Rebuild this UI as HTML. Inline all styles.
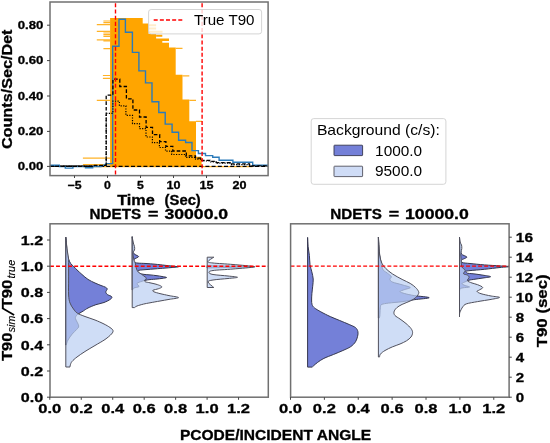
<!DOCTYPE html>
<html><head><meta charset="utf-8"><title>T90 plot</title>
<style>
html,body{margin:0;padding:0;background:#fff;width:550px;height:443px;overflow:hidden}
svg{display:block;filter:blur(0.35px)}
text{font-family:"Liberation Sans",sans-serif;fill:#000}
.b{font-weight:bold;stroke:#000;stroke-width:0.3px}
</style></head><body>
<svg width="550" height="443" viewBox="0 0 550 443">
<rect width="550" height="443" fill="#fff"/>
<defs>
<clipPath id="c1"><rect x="50" y="2" width="218.1" height="173.6"/></clipPath>
<clipPath id="c2"><rect x="50" y="223.8" width="218.3" height="173.4"/></clipPath>
<clipPath id="c3"><rect x="290.6" y="223.8" width="218.5" height="173.4"/></clipPath>
</defs>
<g clip-path="url(#c1)">
<polygon points="110.1,166.9 110.1,18.1 142.7,18.1 142.7,23.4 148.6,23.4 148.6,34 156.1,34 156.1,38.6 169,38.6 169,47.6 175.7,47.6 175.7,74.7 182.5,74.7 182.5,99.6 189.3,99.6 189.3,121.3 196,121.3 196,156.8 201.6,156.8 201.6,166.9" fill="#ffa500"/>
<line x1="162.3" y1="41.85" x2="169.1" y2="41.85" stroke="#fff" stroke-width="1.6"/>
<line x1="148.6" y1="25.2" x2="156.1" y2="25.2" stroke="#ffa500" stroke-width="2"/>
<line x1="148.6" y1="28.4" x2="156.1" y2="28.4" stroke="#ffa500" stroke-width="2"/>
<line x1="148.6" y1="31.7" x2="162.5" y2="31.7" stroke="#ffa500" stroke-width="2"/>
<line x1="156.1" y1="35.8" x2="162.3" y2="35.8" stroke="#ffa500" stroke-width="2"/>
<line x1="103.4" y1="21" x2="110.1" y2="21" stroke="#ffa500" stroke-width="1.2" stroke-opacity="0.85"/>
<line x1="103.4" y1="22.7" x2="110.1" y2="22.7" stroke="#ffa500" stroke-width="1.2" stroke-opacity="0.85"/>
<line x1="96.8" y1="24.6" x2="110.1" y2="24.6" stroke="#ffa500" stroke-width="1.2" stroke-opacity="0.85"/>
<line x1="96.8" y1="31.4" x2="110.1" y2="31.4" stroke="#ffa500" stroke-width="1.2" stroke-opacity="0.85"/>
<line x1="103.4" y1="33" x2="110.1" y2="33" stroke="#ffa500" stroke-width="1.2" stroke-opacity="0.85"/>
<line x1="103.4" y1="34.6" x2="110.1" y2="34.6" stroke="#ffa500" stroke-width="1.2" stroke-opacity="0.85"/>
<line x1="103.4" y1="36.4" x2="110.1" y2="36.4" stroke="#ffa500" stroke-width="1.2" stroke-opacity="0.85"/>
<line x1="96.8" y1="39.8" x2="110.1" y2="39.8" stroke="#ffa500" stroke-width="1.2" stroke-opacity="0.85"/>
<line x1="103.4" y1="40.9" x2="110.1" y2="40.9" stroke="#ffa500" stroke-width="1.2" stroke-opacity="0.85"/>
<line x1="103.4" y1="48.6" x2="110.1" y2="48.6" stroke="#ffa500" stroke-width="1.2" stroke-opacity="0.85"/>
<line x1="102.9" y1="75.5" x2="110.1" y2="75.5" stroke="#ffa500" stroke-width="1.2" stroke-opacity="0.85"/>
<line x1="102.9" y1="78.4" x2="110.1" y2="78.4" stroke="#ffa500" stroke-width="1.2" stroke-opacity="0.85"/>
<line x1="96.8" y1="100.4" x2="110.1" y2="100.4" stroke="#ffa500" stroke-width="1.2" stroke-opacity="0.85"/>
<line x1="82.9" y1="158.1" x2="110.1" y2="158.1" stroke="#ffa500" stroke-width="1.2" stroke-opacity="0.85"/>
<line x1="82.9" y1="164.6" x2="110.1" y2="164.6" stroke="#ffa500" stroke-width="1.2" stroke-opacity="0.85"/>
<line x1="82.9" y1="166.6" x2="252.5" y2="166.6" stroke="#ffa500" stroke-width="1.2" stroke-opacity="0.85"/>
<line x1="175.7" y1="48.3" x2="182.5" y2="48.3" stroke="#ffa500" stroke-width="1.2" stroke-opacity="0.85"/>
<line x1="182.5" y1="75.8" x2="189.3" y2="75.8" stroke="#ffa500" stroke-width="1.2" stroke-opacity="0.85"/>
<line x1="189.3" y1="100.3" x2="196" y2="100.3" stroke="#ffa500" stroke-width="1.2" stroke-opacity="0.85"/>
<line x1="196" y1="121.3" x2="202.1" y2="121.3" stroke="#ffa500" stroke-width="1.2" stroke-opacity="0.85"/>
<line x1="50.0" y1="166.4" x2="268.1" y2="166.4" stroke="#000" stroke-width="1.4" stroke-dasharray="4,2.2" stroke-dashoffset="5.8"/>
<line x1="50" y1="166.2" x2="91" y2="166.2" stroke="#000" stroke-width="1.3"/>
<polyline points="50,165.3 59.3,165.3 59.3,166.6 65.3,166.6 65.3,168.1 72.9,168.1 72.9,166.6 85.5,166.6 85.5,167.8 92.7,167.8 92.7,166.6 101.2,166.6 106.4,163.6 112.7,163.6 112.7,46.3 119,46.3 119,19.2 125.4,19.2 125.4,32.3 132.4,32.3 132.4,52.4 138.9,52.4 138.9,70.9 145.5,70.9 145.5,82.9 152,82.9 152,101.7 158.8,101.7 158.8,112.5 165.2,112.5 165.2,124.1 172.1,124.1 172.1,132.2 178.6,132.2 178.6,140.2 185.6,140.2 185.6,142.5 192,142.5 192,150.6 198.4,150.6 198.4,153.5 205.5,153.5 205.5,155.6 212.7,155.6 212.7,157.2 219.1,157.2 219.1,160.3 232.9,160.3 232.9,162.2 252.7,162.2 252.7,165.3 268.2,165.3" fill="none" stroke="#2b7bba" stroke-width="1.4"/>
<polyline points="50,166.3 92,166.3 92,165.3 106.2,165.3 106.2,95.1 112.9,95.1 112.9,79.2 119.8,79.2 119.8,86.5 126.4,86.5 126.4,98.8 132.9,98.8 132.9,110 139.5,110 139.5,117 146.1,117 146.1,127.3 152.5,127.3 152.5,134.7 159.7,134.7 159.7,141.6 165.9,141.6 165.9,146.4 172.8,146.4 172.8,151 186.3,151 186.3,155.8 195.5,155.8 195.5,158.2 201.8,158.2 201.8,160.3 210,160.3 210,161.3 216.4,161.3 216.4,162.6 230,162.6 230,163.9 249.5,163.9 249.5,165.8 268.2,165.8" fill="none" stroke="#000" stroke-width="1.3" stroke-dasharray="3.6,2"/>
<polyline points="50,166.3 92,166.3 92,165.6 106.2,165.6 106.2,113.3 112.9,113.3 112.9,101.2 119.4,101.2 119.4,105.9 125.9,105.9 125.9,115.4 132.5,115.4 132.5,123.7 139.5,123.7 139.5,128.6 146,128.6 146,137 152.4,137 152.4,142.7 159.4,142.7 159.4,147.5 165.5,147.5 165.5,151.1 171.7,151.1 171.7,154.5 185.5,154.5 185.5,157.3 195.5,157.3 195.5,159.2 202,159.2 202,161 210,161 210,162 216.4,162 216.4,163.2 230,163.2 230,164.6 249.5,164.6 249.5,166 268.2,166" fill="none" stroke="#000" stroke-width="1.2" stroke-dasharray="1.2,1.4"/>
<line x1="115.5" y1="2.0" x2="115.5" y2="175.6" stroke="#ff0000" stroke-width="1.4" stroke-dasharray="4.05,2.14" stroke-dashoffset="4.89"/>
<line x1="202.1" y1="2.0" x2="202.1" y2="175.6" stroke="#ff0000" stroke-width="1.4" stroke-dasharray="4.05,2.14" stroke-dashoffset="4.89"/>
</g>
<rect x="148.6" y="9.5" width="113" height="24.4" rx="2.5" fill="#fff" fill-opacity="0.8" stroke="#d0d0d0" stroke-width="0.9"/>
<line x1="153.7" y1="20" x2="182.6" y2="20" stroke="#ff0000" stroke-width="1.4" stroke-dasharray="4,2.15"/>
<text x="194.0" y="24.7" font-size="14.3" textLength="60.5" lengthAdjust="spacingAndGlyphs">True T90</text>
<rect x="50.0" y="2.0" width="218.1" height="173.6" fill="none" stroke="#707070" stroke-width="1.5"/>
<line x1="47" y1="166.4" x2="50.0" y2="166.4" stroke="#444" stroke-width="1"/>
<text class="b" x="43.3" y="170.1" font-size="10.8" text-anchor="end" textLength="25.6" lengthAdjust="spacingAndGlyphs">0.00</text>
<line x1="47" y1="131.4" x2="50.0" y2="131.4" stroke="#444" stroke-width="1"/>
<text class="b" x="43.3" y="135.1" font-size="10.8" text-anchor="end" textLength="25.6" lengthAdjust="spacingAndGlyphs">0.20</text>
<line x1="47" y1="96.0" x2="50.0" y2="96.0" stroke="#444" stroke-width="1"/>
<text class="b" x="43.3" y="99.7" font-size="10.8" text-anchor="end" textLength="25.6" lengthAdjust="spacingAndGlyphs">0.40</text>
<line x1="47" y1="60.6" x2="50.0" y2="60.6" stroke="#444" stroke-width="1"/>
<text class="b" x="43.3" y="64.3" font-size="10.8" text-anchor="end" textLength="25.6" lengthAdjust="spacingAndGlyphs">0.60</text>
<line x1="47" y1="25.2" x2="50.0" y2="25.2" stroke="#444" stroke-width="1"/>
<text class="b" x="43.3" y="28.9" font-size="10.8" text-anchor="end" textLength="25.6" lengthAdjust="spacingAndGlyphs">0.80</text>
<line x1="74.5" y1="175.6" x2="74.5" y2="178" stroke="#444" stroke-width="1"/>
<text class="b" x="74.5" y="189.4" font-size="10.8" text-anchor="middle" textLength="14" lengthAdjust="spacingAndGlyphs">−5</text>
<line x1="107.5" y1="175.6" x2="107.5" y2="178" stroke="#444" stroke-width="1"/>
<text class="b" x="107.5" y="189.4" font-size="10.8" text-anchor="middle" textLength="6.8" lengthAdjust="spacingAndGlyphs">0</text>
<line x1="140.5" y1="175.6" x2="140.5" y2="178" stroke="#444" stroke-width="1"/>
<text class="b" x="140.5" y="189.4" font-size="10.8" text-anchor="middle" textLength="6.8" lengthAdjust="spacingAndGlyphs">5</text>
<line x1="173.5" y1="175.6" x2="173.5" y2="178" stroke="#444" stroke-width="1"/>
<text class="b" x="173.5" y="189.4" font-size="10.8" text-anchor="middle" textLength="14" lengthAdjust="spacingAndGlyphs">10</text>
<line x1="206.5" y1="175.6" x2="206.5" y2="178" stroke="#444" stroke-width="1"/>
<text class="b" x="206.5" y="189.4" font-size="10.8" text-anchor="middle" textLength="14" lengthAdjust="spacingAndGlyphs">15</text>
<line x1="239.5" y1="175.6" x2="239.5" y2="178" stroke="#444" stroke-width="1"/>
<text class="b" x="239.5" y="189.4" font-size="10.8" text-anchor="middle" textLength="14" lengthAdjust="spacingAndGlyphs">20</text>
<text class="b" x="117.2" y="205.3" font-size="14" textLength="37.6" lengthAdjust="spacingAndGlyphs">Time</text>
<text class="b" x="164.6" y="205.3" font-size="14" textLength="36.2" lengthAdjust="spacingAndGlyphs">(Sec)</text>
<text class="b" transform="translate(11.6,89.3) rotate(-90)" x="0" y="0" font-size="14" text-anchor="middle" textLength="119.6" lengthAdjust="spacingAndGlyphs">Counts/Sec/Det</text>
<rect x="311.2" y="118.6" width="134.7" height="65.7" rx="2.5" fill="#fff" stroke="#d0d0d0" stroke-width="0.9"/>
<text x="316.9" y="134.5" font-size="14.3" textLength="123" lengthAdjust="spacingAndGlyphs">Background (c/s):</text>
<rect x="334" y="145.2" width="28.6" height="10.4" rx="0.6" fill="#7480d8" stroke="#34364e" stroke-width="0.9"/>
<rect x="334" y="166.2" width="28.6" height="10.4" rx="0.6" fill="#cfdcf6" stroke="#50505c" stroke-width="0.9"/>
<text x="375.1" y="155.6" font-size="14.3" textLength="47" lengthAdjust="spacingAndGlyphs">1000.0</text>
<text x="374.9" y="175.6" font-size="14.3" textLength="47.2" lengthAdjust="spacingAndGlyphs">9500.0</text>
<g clip-path="url(#c2)">
<path d="M65.8,237.2 L65.8,237.2  C65.93,238.5 66.35,242.2 66.6,245 C66.85,247.8 66.97,251.67 67.3,254 C67.63,256.33 68.05,257.43 68.6,259 C69.15,260.57 69.73,262.12 70.6,263.4 C71.47,264.68 72.73,265.62 73.8,266.7 C74.87,267.78 75.63,268.6 77,269.9 C78.37,271.2 80.17,272.92 82,274.5 C83.83,276.08 85.83,277.98 88,279.4 C90.17,280.82 92.83,281.98 95,283 C97.17,284.02 99.27,284.8 101,285.5 C102.73,286.2 104.37,286.62 105.4,287.2 C106.43,287.78 107.13,288.2 107.2,289 C107.27,289.8 105.75,291.07 105.8,292 C105.85,292.93 106.52,293.82 107.5,294.6 C108.48,295.38 111.2,295.93 111.7,296.7 C112.2,297.47 111.78,298.23 110.5,299.2 C109.22,300.17 106.43,301.58 104,302.5 C101.57,303.42 98.57,303.78 95.9,304.7 C93.23,305.62 90.1,306.95 88,308 C85.9,309.05 84.8,310.08 83.3,311 C81.8,311.92 80.13,312.75 79,313.5 C77.87,314.25 77.08,314.65 76.5,315.5 C75.92,316.35 75.13,316.87 75.5,318.6 C75.87,320.33 78.53,324.07 78.7,325.9 C78.87,327.73 77.58,328.25 76.5,329.6 C75.42,330.95 73.62,332.27 72.2,334 C70.78,335.73 69,338.17 68,340 C67,341.83 66.5,344.17 66.2,345 L65.8,345 Z" fill="#7480d8" stroke="#34364e" stroke-width="1.0" stroke-linejoin="round"/>
<path d="M132.2,236.7 L132.2,236.7  C132.3,237.5 132.67,239.95 132.8,241.5 C132.93,243.05 132.97,244.58 133,246 C133.03,247.42 132.97,248.92 133,250 C133.03,251.08 132.87,251.75 133.2,252.5 C133.53,253.25 134.1,253.82 135,254.5 C135.9,255.18 138.6,255.9 138.6,256.6 C138.6,257.3 135.85,258.1 135,258.7 C134.15,259.3 133.58,259.6 133.5,260.2 C133.42,260.8 133.75,261.82 134.5,262.3 C135.25,262.78 136.08,262.9 138,263.1 C139.92,263.3 143.17,263.32 146,263.5 C148.83,263.68 151.83,263.9 155,264.2 C158.17,264.5 162.17,264.98 165,265.3 C167.83,265.62 169.77,265.85 172,266.1 C174.23,266.35 178.4,266.57 178.4,266.8 C178.4,267.03 174.23,267.28 172,267.5 C169.77,267.72 167.83,267.87 165,268.1 C162.17,268.33 158.17,268.65 155,268.9 C151.83,269.15 148.67,269.37 146,269.6 C143.33,269.83 140.37,269.98 139,270.3 C137.63,270.62 137.72,271 137.8,271.5 C137.88,272 138.47,272.82 139.5,273.3 C140.53,273.78 142.25,274.13 144,274.4 C145.75,274.67 147.83,274.68 150,274.9 C152.17,275.12 155,275.43 157,275.7 C159,275.97 160.4,276.2 162,276.5 C163.6,276.8 166.6,277.18 166.6,277.5 C166.6,277.82 163.6,278.15 162,278.4 C160.4,278.65 159,278.8 157,279 C155,279.2 151.83,279.4 150,279.6 C148.17,279.8 147.33,279.93 146,280.2 C144.67,280.47 143.5,280.65 142,281.2 C140.5,281.75 137.5,282.62 137,283.5 C136.5,284.38 139.5,285.75 139,286.5 C138.5,287.25 135.08,287.42 134,288 C132.92,288.58 132.75,289.67 132.5,290 L132.2,290 Z" fill="#7480d8" stroke="#34364e" stroke-width="1.0" stroke-linejoin="round"/>
<path d="M207.2,265.6 L207.2,265.6  C210.17,265.68 219.53,265.97 225,266.1 C230.47,266.23 235.03,266.28 240,266.4 C244.97,266.52 254.8,266.67 254.8,266.8 C254.8,266.93 244.97,267.08 240,267.2 C235.03,267.32 230.47,267.37 225,267.5 C219.53,267.63 210.17,267.92 207.2,268 L207.2,268 Z" fill="#7480d8" stroke="#34364e" stroke-width="1.0" stroke-linejoin="round"/>
<path d="M65.8,237.2 L65.8,237.2  C65.92,238.5 66.22,242.53 66.5,245 C66.78,247.47 67.17,249.83 67.5,252 C67.83,254.17 68.32,255.83 68.5,258 C68.68,260.17 68.58,261.33 68.6,265 C68.62,268.67 68.6,275 68.6,280 C68.6,285 68.37,291.17 68.6,295 C68.83,298.83 69.18,300.67 70,303 C70.82,305.33 72.27,307.3 73.5,309 C74.73,310.7 75.48,311.95 77.4,313.2 C79.32,314.45 82.07,315.37 85,316.5 C87.93,317.63 91.83,318.75 95,320 C98.17,321.25 101.5,322.75 104,324 C106.5,325.25 108.5,326.42 110,327.5 C111.5,328.58 112.75,329.42 113,330.5 C113.25,331.58 112.83,332.5 111.5,334 C110.17,335.5 107.75,337.58 105,339.5 C102.25,341.42 98.33,343.5 95,345.5 C91.67,347.5 88,349.58 85,351.5 C82,353.42 79.17,355.33 77,357 C74.83,358.67 73.12,360.17 72,361.5 C70.88,362.83 70.63,364.08 70.3,365 C69.97,365.92 70.05,366.67 70,367 L65.8,367 Z" fill="#bcd0f2" fill-opacity="0.72" stroke="#50505c" stroke-width="1.0" stroke-linejoin="round"/>
<path d="M132.2,236.7 L132.2,236.7  C132.33,237.58 132.62,240.37 133,242 C133.38,243.63 134.25,245.17 134.5,246.5 C134.75,247.83 134.75,249 134.5,250 C134.25,251 133.22,251.5 133,252.5 C132.78,253.5 133.03,254.75 133.2,256 C133.37,257.25 133.65,258.83 134,260 C134.35,261.17 134.95,261.75 135.3,263 C135.65,264.25 135.8,266.28 136.1,267.5 C136.4,268.72 136.7,269.52 137.1,270.3 C137.5,271.08 137.8,271.57 138.5,272.2 C139.2,272.83 140.2,273.32 141.3,274.1 C142.4,274.88 144.23,276.2 145.1,276.9 C145.97,277.6 146.58,277.75 146.5,278.3 C146.42,278.85 144.78,279.62 144.6,280.2 C144.42,280.78 144.5,281.37 145.4,281.8 C146.3,282.23 148.23,282.4 150,282.8 C151.77,283.2 154.25,283.7 156,284.2 C157.75,284.7 159.53,285.3 160.5,285.8 C161.47,286.3 162.13,286.72 161.8,287.2 C161.47,287.68 159.97,288.18 158.5,288.7 C157.03,289.22 153.75,289.78 153,290.3 C152.25,290.82 152.83,291.25 154,291.8 C155.17,292.35 157.5,292.97 160,293.6 C162.5,294.23 165.9,294.93 169,295.6 C172.1,296.27 178.6,296.97 178.6,297.6 C178.6,298.23 172.1,298.83 169,299.4 C165.9,299.97 163.17,300.43 160,301 C156.83,301.57 152.75,302.28 150,302.8 C147.25,303.32 145.67,303.57 143.5,304.1 C141.33,304.63 138.5,305.42 137,306 C135.5,306.58 134.92,307.33 134.5,307.6 L132.2,307.6 Z" fill="#bcd0f2" fill-opacity="0.72" stroke="#50505c" stroke-width="1.0" stroke-linejoin="round"/>
<path d="M207.2,257.2 L213.8,257.2  C212.83,257.92 208.13,260.53 208,261.5 C207.87,262.47 208.83,262.5 213,263 C217.17,263.5 226.25,263.87 233,264.5 C239.75,265.13 253.5,266.05 253.5,266.8 C253.5,267.55 239.75,268.38 233,269 C226.25,269.62 217,269.92 213,270.5 C209,271.08 209,271.83 209,272.5 C209,273.17 209.83,273.92 213,274.5 C216.17,275.08 223.92,275.53 228,276 C232.08,276.47 237.5,276.88 237.5,277.3 C237.5,277.72 232.08,278.05 228,278.5 C223.92,278.95 216.33,279.42 213,280 C209.67,280.58 207.87,280.75 208,282 C208.13,283.25 212.83,286.58 213.8,287.5 L207.2,287.5 Z" fill="#bcd0f2" fill-opacity="0.72" stroke="#50505c" stroke-width="1.0" stroke-linejoin="round"/>
<line x1="50.0" y1="266.2" x2="268.3" y2="266.2" stroke="#ff0000" stroke-width="1.4" stroke-dasharray="3.9,2.15"/>
</g>
<rect x="50.0" y="223.8" width="218.3" height="173.4" fill="none" stroke="#707070" stroke-width="1.5"/>
<line x1="47" y1="397.2" x2="50.0" y2="397.2" stroke="#444" stroke-width="1"/>
<text class="b" x="43.2" y="401.9" font-size="13.4" text-anchor="end" textLength="22.4" lengthAdjust="spacingAndGlyphs">0.0</text>
<line x1="47" y1="371" x2="50.0" y2="371" stroke="#444" stroke-width="1"/>
<text class="b" x="43.2" y="375.7" font-size="13.4" text-anchor="end" textLength="22.4" lengthAdjust="spacingAndGlyphs">0.2</text>
<line x1="47" y1="344.8" x2="50.0" y2="344.8" stroke="#444" stroke-width="1"/>
<text class="b" x="43.2" y="349.5" font-size="13.4" text-anchor="end" textLength="22.4" lengthAdjust="spacingAndGlyphs">0.4</text>
<line x1="47" y1="318.6" x2="50.0" y2="318.6" stroke="#444" stroke-width="1"/>
<text class="b" x="43.2" y="323.3" font-size="13.4" text-anchor="end" textLength="22.4" lengthAdjust="spacingAndGlyphs">0.6</text>
<line x1="47" y1="292.4" x2="50.0" y2="292.4" stroke="#444" stroke-width="1"/>
<text class="b" x="43.2" y="297.1" font-size="13.4" text-anchor="end" textLength="22.4" lengthAdjust="spacingAndGlyphs">0.8</text>
<line x1="47" y1="266.2" x2="50.0" y2="266.2" stroke="#444" stroke-width="1"/>
<text class="b" x="43.2" y="270.9" font-size="13.4" text-anchor="end" textLength="22.4" lengthAdjust="spacingAndGlyphs">1.0</text>
<line x1="47" y1="240" x2="50.0" y2="240" stroke="#444" stroke-width="1"/>
<text class="b" x="43.2" y="244.7" font-size="13.4" text-anchor="end" textLength="22.4" lengthAdjust="spacingAndGlyphs">1.2</text>
<line x1="49.8" y1="397.2" x2="49.8" y2="399.8" stroke="#444" stroke-width="1"/>
<text class="b" x="49.8" y="413.4" font-size="13.4" text-anchor="middle" textLength="23" lengthAdjust="spacingAndGlyphs">0.0</text>
<line x1="81.26" y1="397.2" x2="81.26" y2="399.8" stroke="#444" stroke-width="1"/>
<text class="b" x="81.26" y="413.4" font-size="13.4" text-anchor="middle" textLength="23" lengthAdjust="spacingAndGlyphs">0.2</text>
<line x1="112.72" y1="397.2" x2="112.72" y2="399.8" stroke="#444" stroke-width="1"/>
<text class="b" x="112.72" y="413.4" font-size="13.4" text-anchor="middle" textLength="23" lengthAdjust="spacingAndGlyphs">0.4</text>
<line x1="144.18" y1="397.2" x2="144.18" y2="399.8" stroke="#444" stroke-width="1"/>
<text class="b" x="144.18" y="413.4" font-size="13.4" text-anchor="middle" textLength="23" lengthAdjust="spacingAndGlyphs">0.6</text>
<line x1="175.64" y1="397.2" x2="175.64" y2="399.8" stroke="#444" stroke-width="1"/>
<text class="b" x="175.64" y="413.4" font-size="13.4" text-anchor="middle" textLength="23" lengthAdjust="spacingAndGlyphs">0.8</text>
<line x1="207.1" y1="397.2" x2="207.1" y2="399.8" stroke="#444" stroke-width="1"/>
<text class="b" x="207.1" y="413.4" font-size="13.4" text-anchor="middle" textLength="23" lengthAdjust="spacingAndGlyphs">1.0</text>
<line x1="238.56" y1="397.2" x2="238.56" y2="399.8" stroke="#444" stroke-width="1"/>
<text class="b" x="238.56" y="413.4" font-size="13.4" text-anchor="middle" textLength="23" lengthAdjust="spacingAndGlyphs">1.2</text>
<text class="b" x="89.6" y="218.8" font-size="14" textLength="51.6" lengthAdjust="spacingAndGlyphs">NDETS</text>
<text class="b" x="148.1" y="218.8" font-size="14" textLength="10.4" lengthAdjust="spacingAndGlyphs">=</text>
<text class="b" x="164.4" y="218.8" font-size="14" textLength="63.8" lengthAdjust="spacingAndGlyphs">30000.0</text>
<g clip-path="url(#c3)">
<path d="M307.6,237.4 L307.6,237.4  C307.68,238.92 307.8,243.48 308.1,246.5 C308.4,249.52 309.08,252.5 309.4,255.5 C309.72,258.5 309.6,261.78 310,264.5 C310.4,267.22 311.27,269.38 311.8,271.8 C312.33,274.22 313.05,276.6 313.2,279 C313.35,281.4 312.92,283.78 312.7,286.2 C312.48,288.62 312.08,291.2 311.9,293.5 C311.72,295.8 311.57,298.13 311.6,300 C311.63,301.87 311.62,303.38 312.1,304.7 C312.58,306.02 313.05,306.72 314.5,307.9 C315.95,309.08 318.17,310.35 320.8,311.8 C323.43,313.25 327.15,315.15 330.3,316.6 C333.45,318.05 336.55,319.18 339.7,320.5 C342.85,321.82 346.57,323.32 349.2,324.5 C351.83,325.68 354.05,326.42 355.5,327.6 C356.95,328.78 357.55,330.15 357.9,331.6 C358.25,333.05 358,334.6 357.6,336.3 C357.2,338 356.63,340.08 355.5,341.8 C354.37,343.52 352.9,345.15 350.8,346.6 C348.7,348.05 345.8,349.18 342.9,350.5 C340,351.82 336.57,353.18 333.4,354.5 C330.23,355.82 326.53,357.08 323.9,358.4 C321.27,359.72 319.33,361.17 317.6,362.4 C315.87,363.63 314.4,365.02 313.5,365.8 C312.6,366.58 312.42,366.88 312.2,367.1 L307.6,367.1 Z" fill="#7480d8" stroke="#34364e" stroke-width="1.0" stroke-linejoin="round"/>
<path d="M378.4,237.1 L378.4,237.1  C378.5,239.25 378.65,246.18 379,250 C379.35,253.82 380.03,257.37 380.5,260 C380.97,262.63 381.37,264.15 381.8,265.8 C382.23,267.45 381.98,268.53 383.1,269.9 C384.22,271.27 387.13,272.87 388.5,274 C389.87,275.13 391.07,275.8 391.3,276.7 C391.53,277.6 389.68,278.5 389.9,279.4 C390.12,280.3 390.57,281.2 392.6,282.1 C394.63,283 399.17,283.9 402.1,284.8 C405.03,285.7 409.75,286.72 410.2,287.5 C410.65,288.28 406.5,288.82 404.8,289.5 C403.1,290.18 400,290.92 400,291.6 C400,292.28 402.42,292.93 404.8,293.6 C407.18,294.27 410.23,294.92 414.3,295.6 C418.37,296.28 429.2,297.02 429.2,297.7 C429.2,298.38 418.82,299.03 414.3,299.7 C409.78,300.37 406.4,301.13 402.1,301.7 C397.8,302.27 391.88,302.65 388.5,303.1 C385.12,303.55 383.13,303.83 381.8,304.4 C380.47,304.97 380.8,305.23 380.5,306.5 C380.2,307.77 380.12,310.42 380,312 C379.88,313.58 379.92,315 379.8,316 C379.68,317 379.38,317.67 379.3,318 L378.4,318 Z" fill="#7480d8" stroke="#34364e" stroke-width="1.0" stroke-linejoin="round"/>
<path d="M459.5,237.3 L459.5,237.3  C459.58,238.25 459.83,240.88 460,243 C460.17,245.12 460.25,248.17 460.5,250 C460.75,251.83 460.92,253.08 461.5,254 C462.08,254.92 463.1,254.98 464,255.5 C464.9,256.02 466.9,256.55 466.9,257.1 C466.9,257.65 464.9,258.32 464,258.8 C463.1,259.28 461.83,259.38 461.5,260 C461.17,260.62 460.58,261.92 462,262.5 C463.42,263.08 466.25,263.1 470,263.5 C473.75,263.9 479.5,264.5 484.5,264.9 C489.5,265.3 495.78,265.62 500,265.9 C504.22,266.18 509.8,266.33 509.8,266.6 C509.8,266.87 504.22,267.05 500,267.5 C495.78,267.95 489.5,268.78 484.5,269.3 C479.5,269.82 473.08,270.27 470,270.6 C466.92,270.93 466.58,270.97 466,271.3 C465.42,271.63 466.17,272.27 466.5,272.6 C466.83,272.93 466.58,273.07 468,273.3 C469.42,273.53 472.5,273.68 475,274 C477.5,274.32 480.4,274.75 483,275.2 C485.6,275.65 490.6,276.23 490.6,276.7 C490.6,277.17 485.6,277.58 483,278 C480.4,278.42 477.33,278.83 475,279.2 C472.67,279.57 470.5,279.82 469,280.2 C467.5,280.58 467.17,280.95 466,281.5 C464.83,282.05 462.17,282.83 462,283.5 C461.83,284.17 463.75,284.92 465,285.5 C466.25,286.08 469.83,286.62 469.5,287 C469.17,287.38 464.58,287.47 463,287.8 C461.42,288.13 460.58,288.3 460,289 C459.42,289.7 459.58,291.5 459.5,292 L459.5,292 Z" fill="#7480d8" stroke="#34364e" stroke-width="1.0" stroke-linejoin="round"/>
<path d="M378.4,237.1 L378.4,237.1  C378.53,238.75 378.98,244.02 379.2,247 C379.42,249.98 379.27,252.32 379.7,255 C380.13,257.68 380.78,260.85 381.8,263.1 C382.82,265.35 384,266.68 385.8,268.5 C387.6,270.32 389.88,272.18 392.6,274 C395.32,275.82 399.17,277.83 402.1,279.4 C405.03,280.97 407.95,282.05 410.2,283.4 C412.45,284.75 414.2,286.13 415.6,287.5 C417,288.87 418.15,290.47 418.6,291.6 C419.05,292.73 418.8,293.28 418.3,294.3 C417.8,295.32 416.95,296.58 415.6,297.7 C414.25,298.82 412.45,299.88 410.2,301 C407.95,302.12 404.35,303.27 402.1,304.4 C399.85,305.53 398.05,306.55 396.7,307.8 C395.35,309.05 394.28,310.62 394,311.9 C393.72,313.18 394,314.32 395,315.5 C396,316.68 398.17,317.67 400,319 C401.83,320.33 404.17,321.92 406,323.5 C407.83,325.08 409.9,326.98 411,328.5 C412.1,330.02 412.6,331.18 412.6,332.6 C412.6,334.02 412.02,335.63 411,337 C409.98,338.37 408.33,339.63 406.5,340.8 C404.67,341.97 402.37,342.98 400,344 C397.63,345.02 394.8,345.82 392.3,346.9 C389.8,347.98 386.97,349.32 385,350.5 C383.03,351.68 381.42,352.92 380.5,354 C379.58,355.08 379.67,356.5 379.5,357 L378.4,357 Z" fill="#bcd0f2" fill-opacity="0.72" stroke="#50505c" stroke-width="1.0" stroke-linejoin="round"/>
<path d="M459.5,237.3 L459.5,237.3  C459.58,238.08 459.67,240.72 460,242 C460.33,243.28 461.2,243.92 461.5,245 C461.8,246.08 461.88,247.3 461.8,248.5 C461.72,249.7 461.17,251.12 461,252.2 C460.83,253.28 460.8,254.03 460.8,255 C460.8,255.97 460.93,256.97 461,258 C461.07,259.03 461.07,259.72 461.2,261.2 C461.33,262.68 461.13,265.38 461.8,266.9 C462.47,268.42 464.92,269.17 465.2,270.3 C465.48,271.43 463.13,272.9 463.5,273.7 C463.87,274.5 466.47,274.5 467.4,275.1 C468.33,275.7 469.1,276.37 469.1,277.3 C469.1,278.23 466.92,279.75 467.4,280.7 C467.88,281.65 470.3,282.33 472,283 C473.7,283.67 475.82,283.95 477.6,284.7 C479.38,285.45 482.52,286.57 482.7,287.5 C482.88,288.43 479.65,289.63 478.7,290.3 C477.75,290.97 476.62,290.93 477,291.5 C477.38,292.07 478.65,292.95 481,293.7 C483.35,294.45 488,295.38 491.1,296 C494.2,296.62 499.6,296.83 499.6,297.4 C499.6,297.97 494.77,298.7 491.1,299.4 C487.43,300.1 481.73,300.85 477.6,301.6 C473.47,302.35 468.75,303.05 466.3,303.9 C463.85,304.75 463.75,305.77 462.9,306.7 C462.05,307.63 461.73,308.47 461.2,309.5 C460.67,310.53 459.98,311.67 459.7,312.9 C459.42,314.13 459.53,316.23 459.5,316.9 L459.5,316.9 Z" fill="#bcd0f2" fill-opacity="0.72" stroke="#50505c" stroke-width="1.0" stroke-linejoin="round"/>
<line x1="290.6" y1="266.1" x2="509.1" y2="266.1" stroke="#ff0000" stroke-width="1.4" stroke-dasharray="3.9,2.15"/>
</g>
<rect x="290.6" y="223.8" width="218.5" height="173.4" fill="none" stroke="#707070" stroke-width="1.5"/>
<line x1="290.5" y1="397.2" x2="290.5" y2="399.8" stroke="#444" stroke-width="1"/>
<text class="b" x="290.5" y="413.4" font-size="13.4" text-anchor="middle" textLength="23" lengthAdjust="spacingAndGlyphs">0.0</text>
<line x1="324.38" y1="397.2" x2="324.38" y2="399.8" stroke="#444" stroke-width="1"/>
<text class="b" x="324.38" y="413.4" font-size="13.4" text-anchor="middle" textLength="23" lengthAdjust="spacingAndGlyphs">0.2</text>
<line x1="358.26" y1="397.2" x2="358.26" y2="399.8" stroke="#444" stroke-width="1"/>
<text class="b" x="358.26" y="413.4" font-size="13.4" text-anchor="middle" textLength="23" lengthAdjust="spacingAndGlyphs">0.4</text>
<line x1="392.14" y1="397.2" x2="392.14" y2="399.8" stroke="#444" stroke-width="1"/>
<text class="b" x="392.14" y="413.4" font-size="13.4" text-anchor="middle" textLength="23" lengthAdjust="spacingAndGlyphs">0.6</text>
<line x1="426.02" y1="397.2" x2="426.02" y2="399.8" stroke="#444" stroke-width="1"/>
<text class="b" x="426.02" y="413.4" font-size="13.4" text-anchor="middle" textLength="23" lengthAdjust="spacingAndGlyphs">0.8</text>
<line x1="459.9" y1="397.2" x2="459.9" y2="399.8" stroke="#444" stroke-width="1"/>
<text class="b" x="459.9" y="413.4" font-size="13.4" text-anchor="middle" textLength="23" lengthAdjust="spacingAndGlyphs">1.0</text>
<line x1="493.78" y1="397.2" x2="493.78" y2="399.8" stroke="#444" stroke-width="1"/>
<text class="b" x="493.78" y="413.4" font-size="13.4" text-anchor="middle" textLength="23" lengthAdjust="spacingAndGlyphs">1.2</text>
<line x1="509.1" y1="397.2" x2="511.8" y2="397.2" stroke="#444" stroke-width="1"/>
<text class="b" x="515.8" y="401.9" font-size="13.4" textLength="8.4" lengthAdjust="spacingAndGlyphs">0</text>
<line x1="509.1" y1="377.2" x2="511.8" y2="377.2" stroke="#444" stroke-width="1"/>
<text class="b" x="515.8" y="381.9" font-size="13.4" textLength="8.4" lengthAdjust="spacingAndGlyphs">2</text>
<line x1="509.1" y1="357.2" x2="511.8" y2="357.2" stroke="#444" stroke-width="1"/>
<text class="b" x="515.8" y="361.9" font-size="13.4" textLength="8.4" lengthAdjust="spacingAndGlyphs">4</text>
<line x1="509.1" y1="337.2" x2="511.8" y2="337.2" stroke="#444" stroke-width="1"/>
<text class="b" x="515.8" y="341.9" font-size="13.4" textLength="8.4" lengthAdjust="spacingAndGlyphs">6</text>
<line x1="509.1" y1="317.2" x2="511.8" y2="317.2" stroke="#444" stroke-width="1"/>
<text class="b" x="515.8" y="321.9" font-size="13.4" textLength="8.4" lengthAdjust="spacingAndGlyphs">8</text>
<line x1="509.1" y1="297.2" x2="511.8" y2="297.2" stroke="#444" stroke-width="1"/>
<text class="b" x="515.8" y="301.9" font-size="13.4" textLength="17.2" lengthAdjust="spacingAndGlyphs">10</text>
<line x1="509.1" y1="277.2" x2="511.8" y2="277.2" stroke="#444" stroke-width="1"/>
<text class="b" x="515.8" y="281.9" font-size="13.4" textLength="17.2" lengthAdjust="spacingAndGlyphs">12</text>
<line x1="509.1" y1="257.2" x2="511.8" y2="257.2" stroke="#444" stroke-width="1"/>
<text class="b" x="515.8" y="261.9" font-size="13.4" textLength="17.2" lengthAdjust="spacingAndGlyphs">14</text>
<line x1="509.1" y1="237.2" x2="511.8" y2="237.2" stroke="#444" stroke-width="1"/>
<text class="b" x="515.8" y="241.9" font-size="13.4" textLength="17.2" lengthAdjust="spacingAndGlyphs">16</text>
<text class="b" x="330.2" y="218.8" font-size="14" textLength="51.6" lengthAdjust="spacingAndGlyphs">NDETS</text>
<text class="b" x="388.7" y="218.8" font-size="14" textLength="10.4" lengthAdjust="spacingAndGlyphs">=</text>
<text class="b" x="405" y="218.8" font-size="14" textLength="63.8" lengthAdjust="spacingAndGlyphs">10000.0</text>
<text class="b" transform="translate(546.6,310.8) rotate(-90)" font-size="14" text-anchor="middle" textLength="73" lengthAdjust="spacingAndGlyphs">T90 (sec)</text>
<text class="b" x="275.5" y="439.6" font-size="14" text-anchor="middle" textLength="191.2" lengthAdjust="spacingAndGlyphs">PCODE/INCIDENT ANGLE</text>
<text class="b" transform="translate(11.7,361.1) rotate(-90)" font-size="14" textLength="28.6" lengthAdjust="spacingAndGlyphs">T90</text>
<text transform="translate(14.8,332.2) rotate(-90)" font-size="10.3" font-style="italic" stroke="#000" stroke-width="0.15" textLength="16.4" lengthAdjust="spacingAndGlyphs">sim</text>
<path d="M14.1,315.1 L2.1,307.9" stroke="#000" stroke-width="1.7" stroke-linecap="butt"/>
<text class="b" transform="translate(11.7,308.4) rotate(-90)" font-size="14" textLength="28.8" lengthAdjust="spacingAndGlyphs">T90</text>
<text transform="translate(14.8,278.6) rotate(-90)" font-size="10.3" font-style="italic" stroke="#000" stroke-width="0.15" textLength="18.8" lengthAdjust="spacingAndGlyphs">true</text>
</svg></body></html>
